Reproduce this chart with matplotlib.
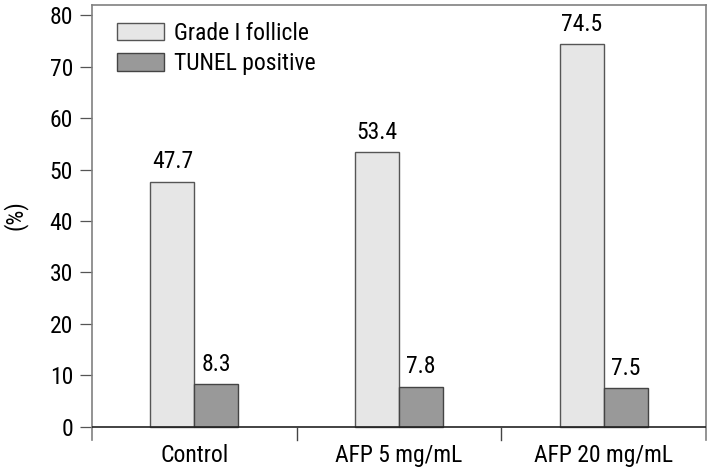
import matplotlib
matplotlib.use("Agg")
import matplotlib.pyplot as plt
import numpy as np

plt.rcParams['font.family'] = ['Roboto Condensed', 'DejaVu Sans']

categories = ["Control", "AFP 5 mg/mL", "AFP 20 mg/mL"]
grade_i = [47.7, 53.4, 74.5]
tunel = [8.3, 7.8, 7.5]
series_names = ["Grade I follicle", "TUNEL positive"]
yticks = [0, 10, 20, 30, 40, 50, 60, 70, 80]

W, H = 711, 474
fig = plt.figure(figsize=(W / 100, H / 100), dpi=100)
ax = fig.add_axes([92 / W, 1 - 440 / H, (706 - 92) / W, (440 - 4.7) / H])

x = np.arange(len(categories))
w = 0.215
fs = 17
tc = "#000000"
b1 = ax.bar(x - w / 2, grade_i, w, color="#e6e6e6", edgecolor="#555555", linewidth=1.0,
            label=series_names[0], zorder=2)
b2 = ax.bar(x + w / 2, tunel, w, color="#999999", edgecolor="#444444", linewidth=1.0,
            label=series_names[1], zorder=2)

for bars, vals in ((b1, grade_i), (b2, tunel)):
    for r, v in zip(bars, vals):
        ax.annotate(f"{v:.1f}", (r.get_x() + r.get_width() / 2, v), xytext=(0, 9.5),
                    textcoords="offset points", ha="center", va="baseline",
                    fontsize=fs, color=tc)

ax.set_xlim(-0.5, len(categories) - 0.5)
ax.set_ylim(-2.59, 82.1)
ax.axhline(0, color="#222222", linewidth=1.2, zorder=3)
ax.set_yticks(yticks)
ax.set_yticklabels([str(t) for t in yticks])
ax.tick_params(axis="y", length=8.6, width=0.9, color="#555555", pad=5.0, labelsize=fs,
               labelcolor=tc)
ax.set_xticks(x)
ax.set_xticklabels(categories)
ax.tick_params(axis="x", length=0, pad=3.0, labelsize=fs, labelcolor=tc)

# separators below the zero line
for b in np.arange(-0.5, len(categories) + 0.5, 1.0)[1:-1]:
    ax.plot([b, b], [-2.59, 0], color="#444444", linewidth=1.0, clip_on=False, zorder=3)

for s in ("top", "right", "left"):
    ax.spines[s].set_color("#808080")
    ax.spines[s].set_linewidth(1.2)
ax.spines["bottom"].set_visible(False)

fig.text(15.5 / W, 1 - 215 / H, "(%)", rotation=90, ha="center", va="center", fontsize=fs,
         color=tc)

leg = ax.legend(loc="upper left", bbox_to_anchor=(117.5 / W, 1 - 21.5 / H),
                bbox_transform=fig.transFigure, frameon=False, fontsize=fs,
                handlelength=1.95, handleheight=0.76, handletextpad=0.45,
                labelspacing=0.32, borderpad=0, borderaxespad=0)

fig.savefig("out.png", dpi=100)
